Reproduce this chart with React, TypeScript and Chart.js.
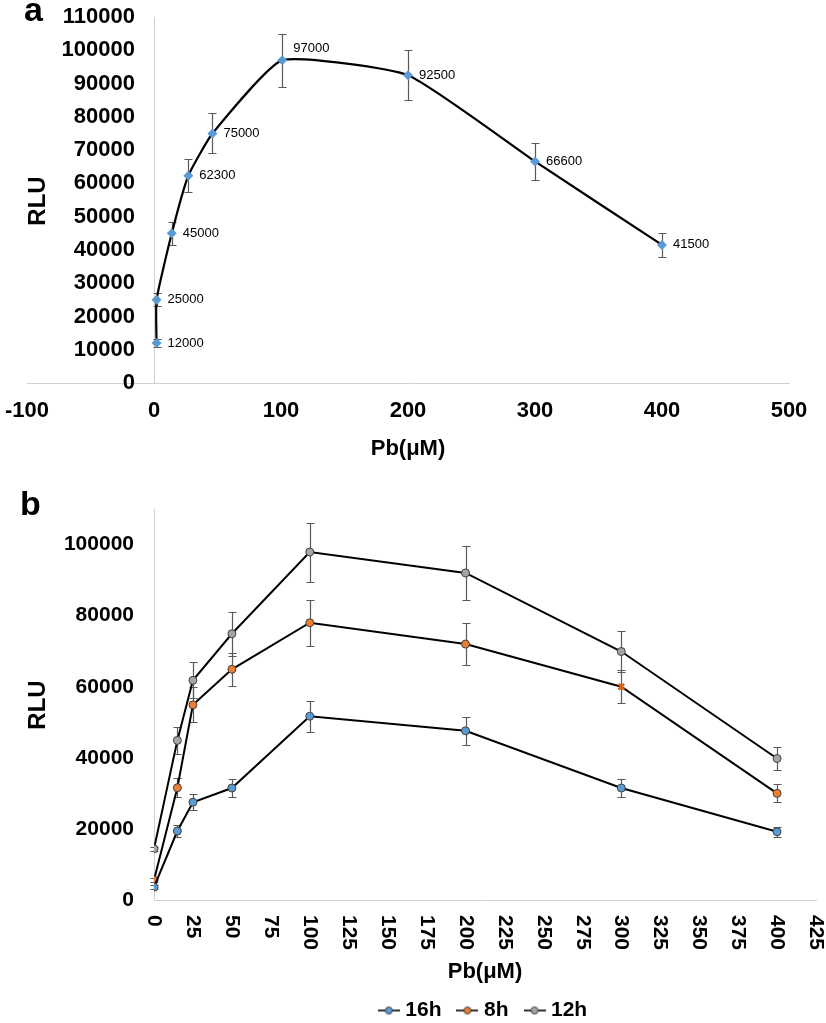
import React, { useEffect, useRef } from 'react';
import { Chart, registerables } from 'chart.js';

Chart.register(...registerables);

const FONT = '"Liberation Sans", Arial, Helvetica, sans-serif';

// ---------- Panel a data ----------
const concA = [2, 2, 14, 27, 46, 101, 200, 300, 400];
const rluA = [12000, 25000, 45000, 62300, 75000, 97000, 92500, 66600, 41500];
const errA = [1200, 2000, 3500, 5000, 6000, 8000, 7500, 5500, 3500];
const xTicksA = [-100, 0, 100, 200, 300, 400, 500];
const yTicksA = [0, 10000, 20000, 30000, 40000, 50000, 60000, 70000, 80000, 90000, 100000, 110000];

// ---------- Panel b data ----------
const concB = [0, 15, 25, 50, 100, 200, 300, 400];
const seriesNames = ['16h', '8h', '12h'];
const rlu16h = [3600, 19400, 27500, 31500, 51700, 47600, 31500, 19200];
const err16h = [500, 1600, 2300, 2600, 4300, 4000, 2600, 1400];
const rlu8h = [5600, 31600, 54900, 64900, 78000, 72000, 60000, 30000];
const err8h = [500, 2600, 4900, 4600, 6500, 5900, 4600, 2500];
const rlu12h = [14400, 44900, 61800, 74900, 97900, 92000, 69900, 39800];
const err12h = [600, 3700, 5100, 6200, 8300, 7700, 5800, 3200];
const marker8h = ['circle', 'circle', 'circle', 'circle', 'circle', 'circle', 'crossRot', 'circle'];
const xTicksB = [0, 25, 50, 75, 100, 125, 150, 175, 200, 225, 250, 275, 300, 325, 350, 375, 400, 425];
const yTicksB = [0, 20000, 40000, 60000, 80000, 100000];

const seriesColors = ['#5B9BD5', '#ED7D31', '#A5A5A5'];
const AXIS_COLOR = '#d0d0d0';

const errorBarsPlugin = {
  id: 'errorBars',
  beforeDatasetsDraw(chart: any) {
    const { ctx } = chart;
    const sx = chart.scales.x;
    const sy = chart.scales.y;
    ctx.save();
    ctx.strokeStyle = '#595959';
    ctx.lineWidth = 1.2;
    chart.data.datasets.forEach((ds: any) => {
      const errs = ds.errors;
      if (!errs) return;
      ds.data.forEach((p: any, i: number) => {
        const e = errs[i];
        if (!e) return;
        const px = Math.round(sx.getPixelForValue(p.x)) + 0.5;
        const y1 = Math.round(sy.getPixelForValue(p.y + e)) + 0.5;
        const y2 = Math.round(sy.getPixelForValue(p.y - e)) + 0.5;
        ctx.beginPath();
        ctx.moveTo(px, y1);
        ctx.lineTo(px, y2);
        ctx.moveTo(px - 4, y1);
        ctx.lineTo(px + 4, y1);
        ctx.moveTo(px - 4, y2);
        ctx.lineTo(px + 4, y2);
        ctx.stroke();
      });
    });
    ctx.restore();
  },
};

const dataLabelsPlugin = {
  id: 'dataLabelsA',
  afterDatasetsDraw(chart: any) {
    const { ctx } = chart;
    const meta = chart.getDatasetMeta(0);
    const ds = chart.data.datasets[0];
    const ys = ds.data.map((p: any) => p.y);
    const peak = ys.indexOf(Math.max(...ys));
    ctx.save();
    ctx.font = `13px ${FONT}`;
    ctx.fillStyle = '#000';
    ctx.textAlign = 'left';
    ctx.textBaseline = 'middle';
    meta.data.forEach((el: any, i: number) => {
      const dy = i === peak ? -12 : 0;
      ctx.fillText(String(ys[i]), el.x + 11, el.y + dy);
    });
    ctx.restore();
  },
};

const rotatedXTicksPlugin = {
  id: 'rotatedXTicks',
  afterDraw(chart: any) {
    const sx = chart.scales.x;
    const { ctx } = chart;
    ctx.save();
    ctx.font = `bold 21px ${FONT}`;
    ctx.fillStyle = '#000';
    ctx.textAlign = 'left';
    ctx.textBaseline = 'middle';
    sx.ticks.forEach((t: any) => {
      const px = sx.getPixelForValue(t.value);
      ctx.save();
      ctx.translate(px, sx.top + 15);
      ctx.rotate(Math.PI / 2);
      ctx.fillText(String(t.value), 0, 0);
      ctx.restore();
    });
    ctx.restore();
  },
};

function makeLegendIcon(color: string) {
  const c = document.createElement('canvas');
  c.width = 22;
  c.height = 10;
  const g = c.getContext('2d')!;
  g.strokeStyle = '#000';
  g.lineWidth = 1.6;
  g.beginPath();
  g.moveTo(0, 5);
  g.lineTo(22, 5);
  g.stroke();
  g.beginPath();
  g.arc(11, 5, 3.5, 0, Math.PI * 2);
  g.fillStyle = color;
  g.fill();
  g.lineWidth = 1;
  g.strokeStyle = '#404040';
  g.stroke();
  return c;
}

function tickFont(size: number) {
  return { family: FONT, size, weight: 'bold' as const };
}

function ChartA() {
  const ref = useRef<HTMLCanvasElement>(null);
  useEffect(() => {
    const chart = new Chart(ref.current!, {
      type: 'line',
      data: {
        datasets: [
          {
            label: 'RLU',
            data: concA.map((x, i) => ({ x, y: rluA[i] })),
            errors: errA,
            borderColor: '#000',
            borderWidth: 2.2,
            tension: 0.15,
            pointStyle: 'rectRot',
            pointRadius: 5,
            pointBackgroundColor: '#5B9BD5',
            pointBorderColor: '#5B9BD5',
            pointBorderWidth: 0,
          } as any,
        ],
      },
      options: {
        animation: false,
        responsive: false,
        layout: { padding: { left: 27, right: 37, top: 17, bottom: 0 } },
        plugins: { legend: { display: false }, tooltip: { enabled: false } },
        scales: {
          x: {
            type: 'linear',
            min: -100,
            max: 500,
            afterBuildTicks: (s: any) => {
              s.ticks = xTicksA.map((v) => ({ value: v }));
            },
            afterFit: (s: any) => {
              s.height = 87;
              s.paddingLeft = 0;
              s.paddingRight = 0;
            },
            grid: {
              display: true,
              drawTicks: false,
              lineWidth: 1,
              color: (ctx: any) => (ctx.tick && ctx.tick.value === 0 ? AXIS_COLOR : 'rgba(0,0,0,0)'),
            },
            border: { display: true, color: AXIS_COLOR, width: 1 },
            ticks: {
              padding: 15,
              color: '#000',
              font: tickFont(22),
              callback: (v: any) => String(v),
            },
            title: {
              display: true,
              text: 'Pb(μM)',
              color: '#000',
              font: tickFont(22),
              padding: { top: 0, bottom: 8 },
            },
          },
          y: {
            type: 'linear',
            min: 0,
            max: 110000,
            position: { x: -15 } as any,
            afterBuildTicks: (s: any) => {
              s.ticks = yTicksA.map((v) => ({ value: v }));
            },
            afterFit: (s: any) => {
              s.width = 0;
              s.paddingTop = 0;
              s.paddingBottom = 0;
            },
            grid: { display: false, drawTicks: false },
            border: { display: false },
            ticks: {
              padding: 0,
              color: '#000',
              font: tickFont(22),
              callback: (v: any) => String(v),
            },
          },
        },
      } as any,
      plugins: [errorBarsPlugin, dataLabelsPlugin],
    });
    return () => chart.destroy();
  }, []);
  return <canvas ref={ref} width={826} height={470} style={{ display: 'block', width: 826, height: 470 }} />;
}

function ChartB() {
  const ref = useRef<HTMLCanvasElement>(null);
  useEffect(() => {
    const values = [rlu16h, rlu8h, rlu12h];
    const errors = [err16h, err8h, err12h];
    const icons = seriesColors.map((c) => makeLegendIcon(c));
    const chart = new Chart(ref.current!, {
      type: 'line',
      data: {
        datasets: seriesNames.map((name, k) => ({
          label: name,
          data: concB.map((x, i) => ({ x, y: values[k][i] })),
          errors: errors[k],
          borderColor: '#000',
          borderWidth: 2,
          tension: 0,
          pointStyle: k === 1 ? marker8h : 'circle',
          pointRadius: 4,
          pointBackgroundColor: seriesColors[k],
          pointBorderColor: k === 1 ? marker8h.map((m) => (m === 'crossRot' ? '#D9600F' : '#404040')) : '#404040',
          pointBorderWidth: k === 1 ? marker8h.map((m) => (m === 'crossRot' ? 2.5 : 1)) : 1,
        })) as any,
      },
      options: {
        animation: false,
        responsive: false,
        layout: { padding: { left: 0, right: 10, top: 39, bottom: 0 } },
        plugins: {
          tooltip: { enabled: false },
          legend: {
            display: true,
            position: 'bottom',
            fullSize: false,
            labels: {
              usePointStyle: true,
              pointStyleWidth: 12,
              padding: 20,
              color: '#000',
              font: tickFont(21),
              generateLabels: (ch: any) =>
                ch.data.datasets.map((ds: any, i: number) => ({
                  text: ds.label,
                  pointStyle: icons[i],
                  fillStyle: seriesColors[i],
                  strokeStyle: '#000',
                  lineWidth: 0,
                  hidden: false,
                  datasetIndex: i,
                  fontColor: '#000',
                })),
            },
          },
        },
        scales: {
          x: {
            type: 'linear',
            min: 0,
            max: 425,
            afterBuildTicks: (s: any) => {
              s.ticks = xTicksB.map((v) => ({ value: v }));
            },
            afterFit: (s: any) => {
              s.height = 80;
            },
            grid: { display: false, drawTicks: false },
            border: { display: true, color: AXIS_COLOR, width: 1 },
            ticks: { display: false },
            title: {
              display: true,
              text: 'Pb(μM)',
              color: '#000',
              font: tickFont(22),
              padding: { top: 0, bottom: -5 },
            },
          },
          y: {
            type: 'linear',
            min: 0,
            max: 110000,
            position: 'left',
            afterBuildTicks: (s: any) => {
              s.ticks = yTicksB.map((v) => ({ value: v }));
            },
            afterFit: (s: any) => {
              s.width = 154;
            },
            grid: { display: false, drawTicks: false },
            border: { display: true, color: AXIS_COLOR, width: 1 },
            ticks: {
              padding: 20,
              color: '#000',
              font: tickFont(21),
              callback: (v: any) => String(v),
            },
          },
        },
      } as any,
      plugins: [errorBarsPlugin, rotatedXTicksPlugin],
    });
    return () => chart.destroy();
  }, []);
  return <canvas ref={ref} width={826} height={561} style={{ display: 'block', width: 826, height: 561 }} />;
}

const panelLetter: React.CSSProperties = {
  position: 'absolute',
  fontFamily: FONT,
  fontWeight: 'bold',
  fontSize: 34,
  lineHeight: '34px',
  color: '#000',
  zIndex: 2,
};

const yTitle: React.CSSProperties = {
  position: 'absolute',
  fontFamily: FONT,
  fontWeight: 'bold',
  fontSize: 24,
  lineHeight: '24px',
  color: '#000',
  whiteSpace: 'nowrap',
  transform: 'translate(-50%, -50%) rotate(-90deg)',
  zIndex: 2,
};

export default function App() {
  return (
    <div
      style={{
        position: 'absolute',
        left: 0,
        top: 0,
        width: 826,
        height: 1023,
        overflow: 'hidden',
        background: '#fff',
      }}
    >
      <div style={{ position: 'absolute', left: 0, top: 0 }}>
        <ChartA />
      </div>
      <div style={{ position: 'absolute', left: 0, top: 470 }}>
        <ChartB />
      </div>
      <div style={{ ...panelLetter, left: 24, top: -8 }}>a</div>
      <div style={{ ...panelLetter, left: 20, top: 486 }}>b</div>
      <div style={{ ...yTitle, left: 37, top: 201 }}>RLU</div>
      <div style={{ ...yTitle, left: 37, top: 705 }}>RLU</div>
    </div>
  );
}
